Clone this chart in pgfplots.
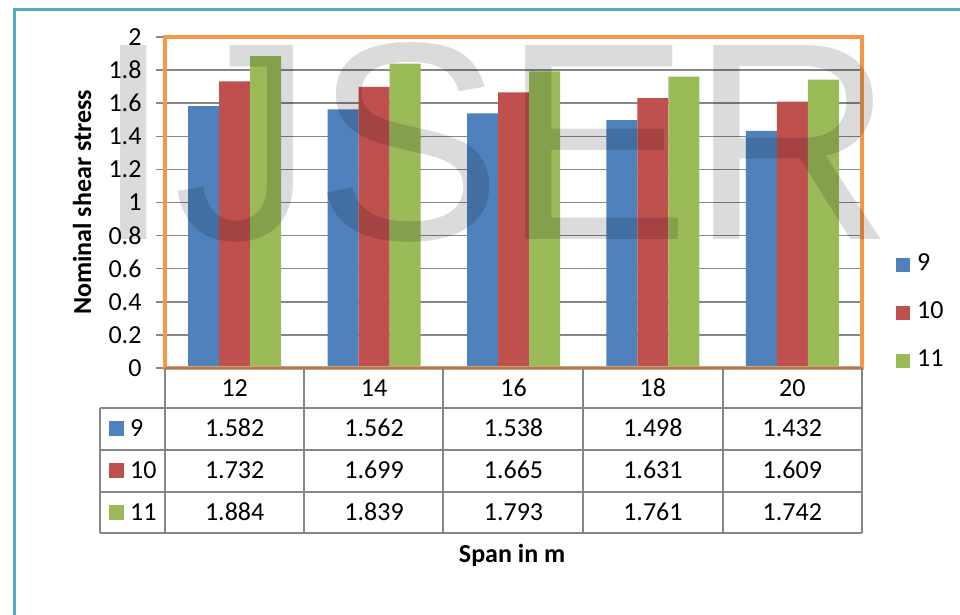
\documentclass[border=0pt]{standalone}
\usepackage{fontspec}
\setmainfont{Carlito}
\newfontfamily\wmfont{Liberation Sans}
\usepackage{pgfplots}
\usepackage{pgfplotstable}
\pgfplotsset{compat=1.18}

\definecolor{xblue}{RGB}{79,129,189}
\definecolor{xred}{RGB}{192,80,77}
\definecolor{xgreen}{RGB}{155,187,89}
\definecolor{xorange}{RGB}{247,150,70}
\definecolor{xgrid}{RGB}{134,134,134}
\definecolor{xteal}{RGB}{75,172,198}

\pgfplotstableread{
span s9 s10 s11
12 1.582 1.732 1.884
14 1.562 1.699 1.839
16 1.538 1.665 1.793
18 1.498 1.631 1.761
20 1.432 1.609 1.742
}\datatable

\newcommand\cfont{\fontsize{26}{30}\selectfont}
\tikzset{tcell/.style={font=\cfont, inner sep=0pt, text height=16pt, text depth=0pt}}

\begin{document}
\begin{tikzpicture}[x=1pt,y=1pt]
\useasboundingbox (0,0) rectangle (960,615);
\fill[white] (0,0) rectangle (960,615);
\draw[xteal, line width=3pt] (14.5,0) -- (14.5,605.5) -- (960,605.5);
\begin{axis}[
  at={(165pt,247pt)}, anchor=south west,
  scale only axis, width=697pt, height=331pt,
  xmin=0.5, xmax=5.5, ymin=0, ymax=2,
  enlargelimits=false, clip=false,
  ybar=0pt, bar width=31pt,
  xtick=data, xticklabels from table={\datatable}{span},
  ytick={0,0.2,0.4,0.6,0.8,1,1.2,1.4,1.6,1.8,2},
  /pgf/number format/fixed,
  /pgf/number format/assume math mode=true,
  axis line style={draw=none},
  ymajorgrids, grid style={xgrid, line width=1.5pt},
  ytick pos=left, ytick align=outside, major tick length=9pt,
  ytick style={xgrid, line width=1.5pt},
  xtick style={draw=none},
  yticklabel style={font=\cfont, xshift=-11pt},
  xticklabel style={font=\cfont, anchor=center, text height=16pt, text depth=0pt, yshift=-11pt},
  ylabel={Nominal shear stress},
  ylabel style={at={(rel axis cs:-0.119,0.5)}, anchor=center, font=\cfont\bfseries},
  xlabel={Span in m},
  xlabel style={at={(rel axis cs:0.498,-0.565)}, anchor=center, font=\cfont\bfseries},
  legend style={draw=none, fill=none, at={(rel axis cs:1.0445,0.166)}, anchor=west,
    row sep=24pt, column sep=7pt,
    nodes={inner sep=0pt, text height=17pt, text depth=7pt, font=\cfont}},
  legend cell align=left,
  legend image code/.code={\fill[#1] (0pt,-7pt) rectangle (14pt,7pt);},
]
\addplot[fill=xblue, draw=none] table[x expr=\coordindex+1, y=s9] {\datatable};
\addplot[fill=xred, draw=none] table[x expr=\coordindex+1, y=s10] {\datatable};
\addplot[fill=xgreen, draw=none] table[x expr=\coordindex+1, y=s11] {\datatable};
\legend{9,10,11}
\draw[xorange, line width=3.5pt] (rel axis cs:0,0) rectangle (rel axis cs:1,1);
\draw[xgrid, line width=1.5pt] (rel axis cs:0,0) -- (rel axis cs:1,0);
\end{axis}
% data table
\begin{scope}[xgrid, line width=1.5pt]
\foreach \yy in {408,450,492,533} \draw (100,615-\yy) -- (862,615-\yy);
\draw (100,615-408) -- (100,615-533);
\foreach \xx in {165,304,443,583,723,862} \draw (\xx,615-368) -- (\xx,615-533);
\end{scope}
\foreach \col/\yy in {xblue/429, xred/471, xgreen/512.5}{
  \fill[\col] (109,615-\yy-7.5) rectangle (124,615-\yy+7.5);
}
\node[tcell, anchor=west] at (130,615-429) {9};
\node[tcell, anchor=west] at (130,615-471) {10};
\node[tcell, anchor=west] at (130,615-512.5) {11};
\foreach \i in {0,...,4}{
  \pgfmathsetmacro\xc{165+139.4*(\i+0.5)}
  \foreach \s/\yy in {s9/429, s10/471, s11/512.5}{
    \pgfplotstablegetelem{\i}{\s}\of\datatable
    \node[tcell] at (\xc,615-\yy) {\pgfplotsretval};
  }
}
% watermark
\node[anchor=base west, inner sep=0pt, text=black, text opacity=0.14,
  font=\fontsize{282}{282}\wmfont] at (94.5,375) {IJSER};
\end{tikzpicture}
\end{document}
